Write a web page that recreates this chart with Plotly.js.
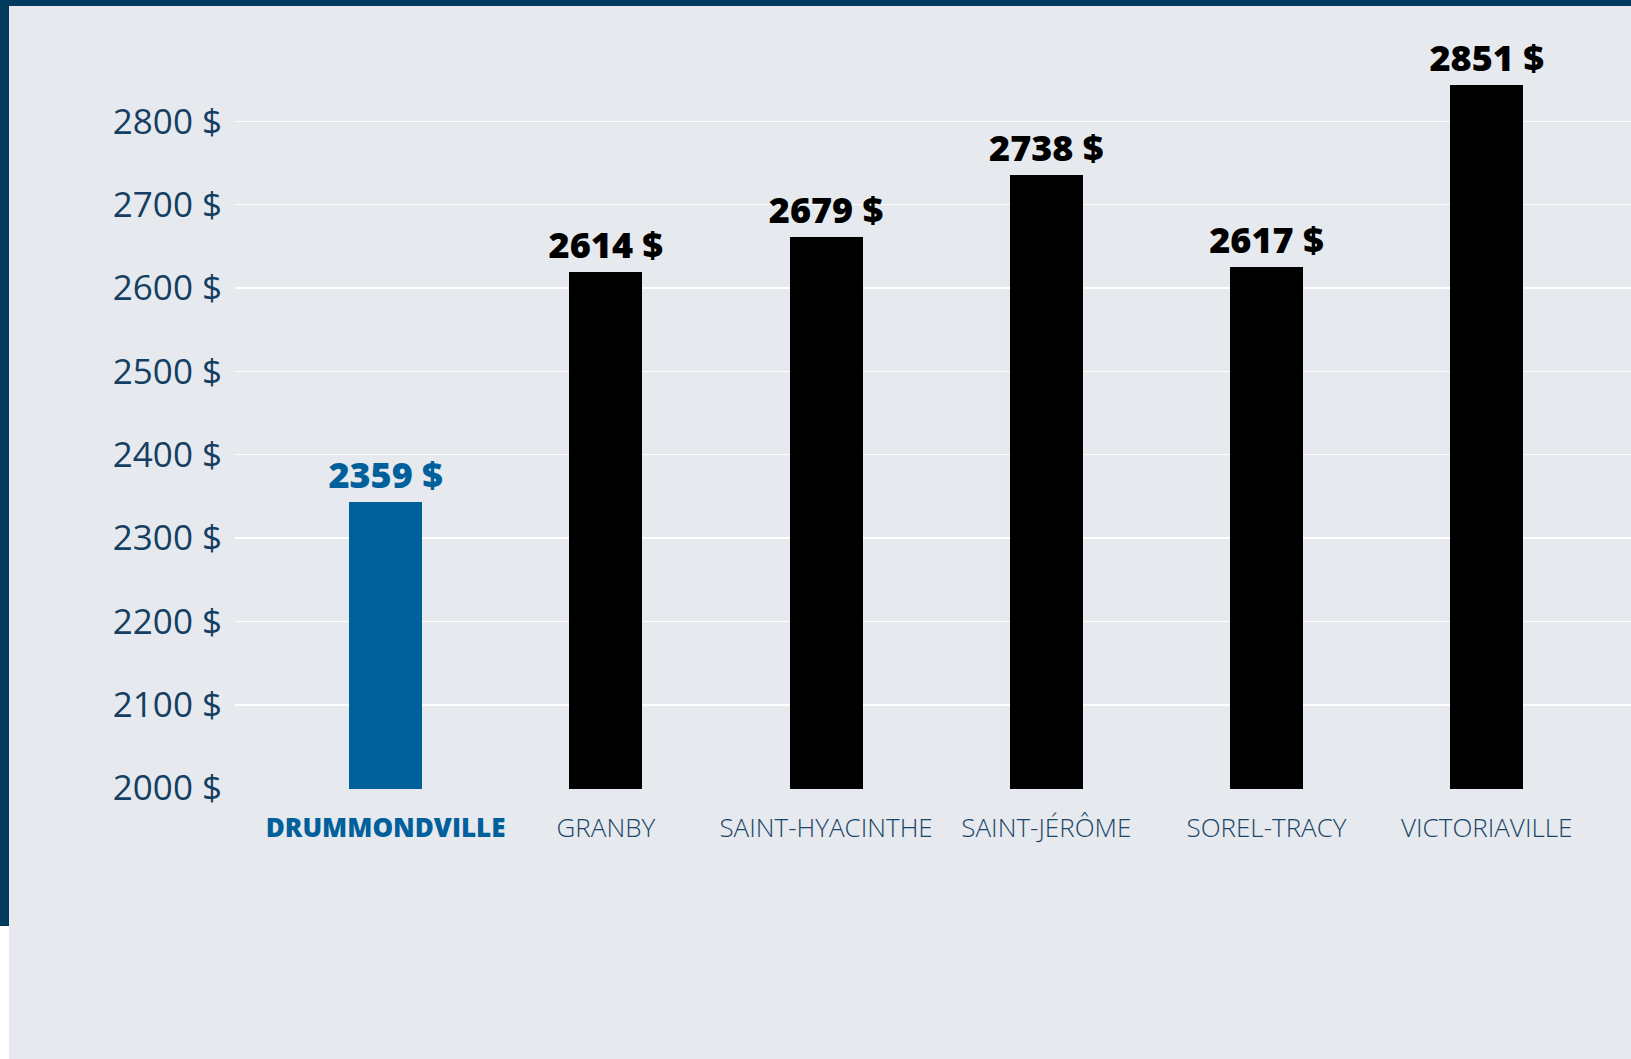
<!DOCTYPE html>
<html>
<head>
<meta charset="utf-8">
<script src="https://cdn.plot.ly/plotly-3.0.1.min.js"></script>
<style>
  html, body { margin: 0; padding: 0; background: #ffffff; }
  #wrap { position: relative; width: 1631px; height: 1059px; overflow: hidden; }
  #chart { position: absolute; left: 0; top: 0; width: 1631px; height: 1059px; }
  .topbar { position: absolute; left: 0; top: 0; width: 1631px; height: 6px; background: #003a5d; }
  .leftbar { position: absolute; left: 0; top: 0; width: 9px; height: 926px; background: #003a5d; }
  .leftgap { position: absolute; left: 0; top: 926px; width: 9px; height: 133px; background: #ffffff; }
</style>
</head>
<body>
<div id="wrap">
  <div id="chart"></div>
  <div class="topbar"></div>
  <div class="leftbar"></div>
  <div class="leftgap"></div>
</div>
<script>
// Data
const categories = ["DRUMMONDVILLE", "GRANBY", "SAINT-HYACINTHE", "SAINT-JÉRÔME", "SOREL-TRACY", "VICTORIAVILLE"];
// bar heights as drawn
const barValues = [2343, 2619, 2661, 2736, 2625, 2844];
// value labels as printed above the bars
const labelValues = [2359, 2614, 2679, 2738, 2617, 2851];
const highlight = "DRUMMONDVILLE";
const yTickValues = [2000, 2100, 2200, 2300, 2400, 2500, 2600, 2700, 2800];

const BLUE = "#00609c";
const NAVY = "#143f62";

const barColors = categories.map(c => c === highlight ? BLUE : "#000000");
const labelTexts = labelValues.map(v => v + " $");
const yTickTexts = yTickValues.map(v => v + " $");
const tickTexts = categories.map(c => c === highlight
  ? '<span style="font-weight:800;color:' + BLUE + '">' + c + '</span>'
  : c);

const trace = {
  type: "bar",
  x: categories,
  y: barValues,
  width: 0.3315,
  marker: { color: barColors, line: { width: 0 } },
  text: labelTexts,
  texttemplate: "%{text}",
  textposition: "outside",
  constraintext: "none",
  cliponaxis: false,
  textfont: { family: "Open Sans", size: 36, weight: 800, color: barColors },
  hoverinfo: "skip"
};

const layout = {
  width: 1631,
  height: 1059,
  paper_bgcolor: "#e6e9ed",
  plot_bgcolor: "#e6e9ed",
  margin: { l: 235, r: 0, t: 10, b: 270 },
  showlegend: false,
  bargap: 0,
  xaxis: {
    type: "category",
    range: [-0.684, 5.655],
    tickvals: categories,
    ticktext: tickTexts,
    showgrid: false,
    zeroline: false,
    showline: false,
    ticks: "",
    ticklabelstandoff: 21,
    tickfont: { family: "Open Sans", size: 26, weight: 300, color: "#1b4568" },
    fixedrange: true
  },
  yaxis: {
    range: [1999, 2933.5],
    tickvals: yTickValues,
    ticktext: yTickTexts,
    showgrid: true,
    gridcolor: "#ffffff",
    gridwidth: 1.5,
    zeroline: false,
    showline: false,
    ticks: "",
    ticklabelstandoff: 12,
    tickfont: { family: "Open Sans", size: 35, color: NAVY },
    fixedrange: true
  }
};

Plotly.newPlot("chart", [trace], layout, { displayModeBar: false, staticPlot: true });
</script>
</body>
</html>
